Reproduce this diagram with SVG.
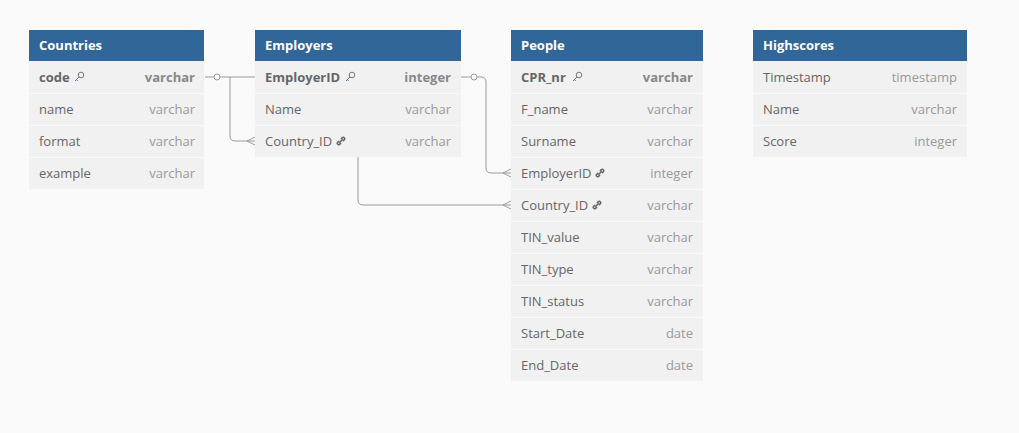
<svg xmlns="http://www.w3.org/2000/svg" width="1019" height="433" viewBox="0 0 1019 433">
<defs>
<style>
.bg{fill:#fafafa}
.hd{fill:#316699}
.row{fill:#f1f1f1}
.sep{stroke:#fafafa;stroke-width:1}
.ht{font-family:"Open Sans","Noto Sans",sans-serif;font-size:13px;font-weight:700;fill:#ffffff}
.fn{font-family:"Open Sans","Noto Sans",sans-serif;font-size:13px;fill:#666666}
.fk{font-family:"Open Sans","Noto Sans",sans-serif;font-size:13px;font-weight:700;fill:#666666}
.ty{font-family:"Open Sans","Noto Sans",sans-serif;font-size:13px;fill:#999999;text-anchor:end}
.tk{font-family:"Open Sans","Noto Sans",sans-serif;font-size:13px;font-weight:700;fill:#888888;text-anchor:end}
.cn{fill:none;stroke:#9a9a9a;stroke-width:1}
.ic{fill:none;stroke:#777777;stroke-width:1}
.il{fill:none;stroke:#666666;stroke-width:1.6;stroke-linecap:round}
</style>
<g id="key">
<circle cx="2" cy="-2" r="2.8" class="ic"/>
<path d="M0,0 L-4,4 M-2.6,2.6 L-1.2,4" class="ic"/>
</g>
<g id="link">
<path d="M-1.2,1.2 L1.2,-1.2" class="il"/>
<path d="M0.4,-2.4 L1.6,-3.6 A1.5,1.5 0 0 1 3.6,-1.6 L2.4,-0.4" class="il"/>
<path d="M-0.4,2.4 L-1.6,3.6 A1.5,1.5 0 0 1 -3.6,1.6 L-2.4,0.4" class="il"/>
</g>
</defs>
<rect class="bg" x="0" y="0" width="1019" height="433"/>

<g id="connectors">
<path class="cn" d="M205,77 H214 M220,77 H353 Q358,77 358,82 V200 Q358,205 363,205 H511"/>
<circle class="cn" cx="217" cy="77" r="3"/>
<path class="cn" d="M230,77 V136 Q230,141 235,141 H255"/>
<path class="cn" d="M255,137 L247,141 L255,145"/>
<path class="cn" d="M503,205 L511,201 M503,205 L511,209"/>
<path class="cn" d="M461,77 H471 M477,77 H481 Q486,77 486,82 V168 Q486,173 491,173 H511"/>
<circle class="cn" cx="474" cy="77" r="3"/>
<path class="cn" d="M503,173 L511,169 M503,173 L511,177"/>
</g>

<g id="countries">
<rect class="row" x="29" y="61" width="175" height="128"/>
<path class="sep" d="M29,93.5 H204 M29,125.5 H204 M29,157.5 H204"/>
<rect class="hd" x="29" y="30" width="175" height="31"/>
<text class="ht" x="39" y="50">Countries</text>
<text class="fk" x="39" y="82">code</text><use href="#key" x="79" y="77"/><text class="tk" x="195" y="82">varchar</text>
<text class="fn" x="39" y="114">name</text><text class="ty" x="195" y="114">varchar</text>
<text class="fn" x="39" y="146">format</text><text class="ty" x="195" y="146">varchar</text>
<text class="fn" x="39" y="178">example</text><text class="ty" x="195" y="178">varchar</text>
</g>

<g id="employers">
<rect class="row" x="255" y="61" width="206" height="96"/>
<path class="sep" d="M255,93.5 H461 M255,125.5 H461"/>
<rect class="hd" x="255" y="30" width="206" height="31"/>
<text class="ht" x="265" y="50">Employers</text>
<text class="fk" x="265" y="82">EmployerID</text><use href="#key" x="350" y="77"/><text class="tk" x="451" y="82">integer</text>
<text class="fn" x="265" y="114">Name</text><text class="ty" x="451" y="114">varchar</text>
<text class="fn" x="265" y="146">Country_ID</text><use href="#link" x="341" y="141"/><text class="ty" x="451" y="146">varchar</text>
</g>

<g id="people">
<rect class="row" x="511" y="61" width="192" height="320"/>
<path class="sep" d="M511,93.5 H703 M511,125.5 H703 M511,157.5 H703 M511,189.5 H703 M511,221.5 H703 M511,253.5 H703 M511,285.5 H703 M511,317.5 H703 M511,349.5 H703"/>
<rect class="hd" x="511" y="30" width="192" height="31"/>
<text class="ht" x="521" y="50">People</text>
<text class="fk" x="521" y="82">CPR_nr</text><use href="#key" x="577" y="77"/><text class="tk" x="693" y="82">varchar</text>
<text class="fn" x="521" y="114">F_name</text><text class="ty" x="693" y="114">varchar</text>
<text class="fn" x="521" y="146">Surname</text><text class="ty" x="693" y="146">varchar</text>
<text class="fn" x="521" y="178">EmployerID</text><use href="#link" x="600" y="173"/><text class="ty" x="693" y="178">integer</text>
<text class="fn" x="521" y="210">Country_ID</text><use href="#link" x="597" y="205"/><text class="ty" x="693" y="210">varchar</text>
<text class="fn" x="521" y="242">TIN_value</text><text class="ty" x="693" y="242">varchar</text>
<text class="fn" x="521" y="274">TIN_type</text><text class="ty" x="693" y="274">varchar</text>
<text class="fn" x="521" y="306">TIN_status</text><text class="ty" x="693" y="306">varchar</text>
<text class="fn" x="521" y="338">Start_Date</text><text class="ty" x="693" y="338">date</text>
<text class="fn" x="521" y="370">End_Date</text><text class="ty" x="693" y="370">date</text>
</g>

<g id="highscores">
<rect class="row" x="753" y="61" width="214" height="96"/>
<path class="sep" d="M753,93.5 H967 M753,125.5 H967"/>
<rect class="hd" x="753" y="30" width="214" height="31"/>
<text class="ht" x="763" y="50">Highscores</text>
<text class="fn" x="763" y="82">Timestamp</text><text class="ty" x="957" y="82">timestamp</text>
<text class="fn" x="763" y="114">Name</text><text class="ty" x="957" y="114">varchar</text>
<text class="fn" x="763" y="146">Score</text><text class="ty" x="957" y="146">integer</text>
</g>
</svg>
